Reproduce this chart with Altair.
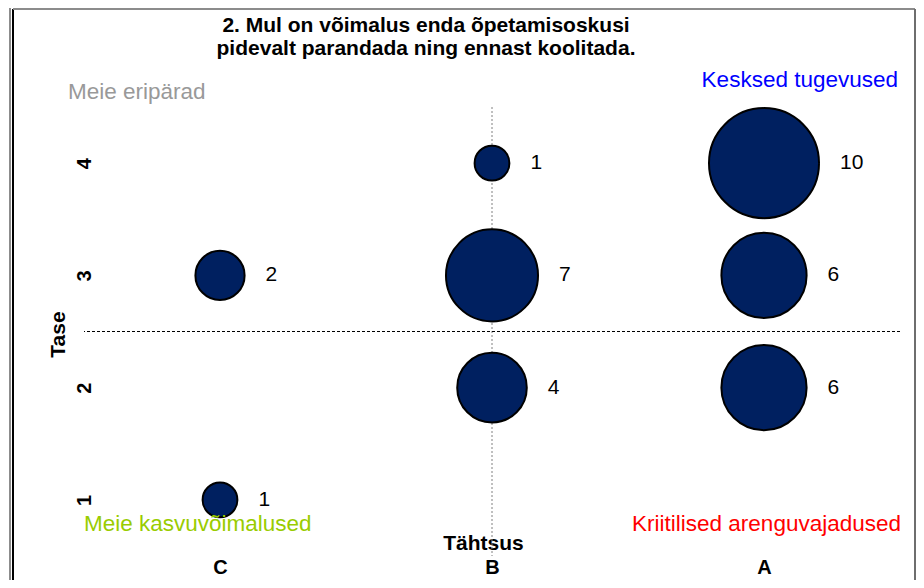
import altair as alt
import pandas as pd

# ---- data ----
categories = ["C", "B", "A"]          # Tähtsus (importance) categories, left to right
cat_pos = [1, 2, 3]
point_cat = ["C", "C", "B", "B", "B", "A", "A", "A"]
point_level = [3, 1, 4, 3, 2, 4, 3, 2]
point_count = [2, 1, 1, 7, 4, 10, 6, 6]
y_ticks = [1, 2, 3, 4]

title_lines = ["2. Mul on võimalus enda õpetamisoskusi",
               "pidevalt parandada ning ennast koolitada."]
quad_labels = ["Meie eripärad", "Kesksed tugevused",
               "Meie kasvuvõimalused", "Kriitilised arenguvajadused"]
quad_colors = ["#999999", "#0000FF", "#99CC00", "#FF0000"]
x_title = "Tähtsus"
y_title = "Tase"

# ---- layout ----
FONT = "Liberation Sans"
W, H = 816, 449
PAD = {"left": 76, "top": 99, "right": 16, "bottom": 24}
X_DOMAIN = [0.5, 3.5]
Y_DOMAIN = [0.5, 4.5]
PX_PER_X = W / (X_DOMAIN[1] - X_DOMAIN[0])
SIZE_PER_UNIT = 1210          # vega symbol size = diameter^2
BUBBLE_FILL = "#002060"

pos_map = dict(zip(categories, cat_pos))
df = pd.DataFrame({
    "cat": point_cat,
    "xpos": [pos_map[c] for c in point_cat],
    "level": point_level,
    "n": point_count,
})

xs = alt.Scale(domain=X_DOMAIN, nice=False, zero=False)
ys = alt.Scale(domain=Y_DOMAIN, nice=False, zero=False)

label_expr = "[" + ",".join(f"'{c}'" for c in categories) + "][datum.value - 1]"

x_axis = alt.Axis(
    values=cat_pos, labelExpr=label_expr, title=x_title,
    ticks=False, tickSize=0, domain=False, grid=False,
    labelFont=FONT, labelFontSize=20, labelFontWeight="bold", labelColor="#000000",
    labelPadding=1, labelAngle=0, labelBaseline="top",
    titleFont=FONT, titleFontSize=21, titleFontWeight="bold", titleColor="#000000",
    titleX=399, titleY=-7, titleBaseline="alphabetic", titleAlign="center",
)
y_axis = alt.Axis(
    values=y_ticks, title=y_title, format="d",
    ticks=False, tickSize=0, domain=False, grid=False,
    labelFont=FONT, labelFontSize=20, labelFontWeight="bold", labelColor="#000000",
    labelAngle=270, labelAlign="center", labelBaseline="middle", labelPadding=0,
    titleFont=FONT, titleFontSize=21, titleFontWeight="bold", titleColor="#000000",
    titleAngle=270, titleX=-26, titleY=227, titleBaseline="middle", titleAlign="center",
)

base = alt.Chart(df)

bubbles = base.mark_circle(
    fill=BUBBLE_FILL, stroke="#000000", strokeWidth=2, opacity=1
).encode(
    x=alt.X("xpos:Q", scale=xs, axis=x_axis),
    y=alt.Y("level:Q", scale=ys, axis=y_axis),
    size=alt.Size("n:Q", scale=alt.Scale(type="linear", domain=[0, 10],
                                         range=[0, 10 * SIZE_PER_UNIT]), legend=None),
)

values = base.transform_calculate(
    lx=f"datum.xpos + (sqrt(datum.n * {SIZE_PER_UNIT}) / 2 + 21) / {PX_PER_X}"
).mark_text(
    align="left", baseline="middle", font=FONT, fontSize=21, color="#000000"
).encode(
    x=alt.X("lx:Q", scale=xs, axis=x_axis),
    y=alt.Y("level:Q", scale=ys, axis=y_axis),
    text=alt.Text("n:Q", format="d"),
)

# quadrant dividers: vertical at the middle category, horizontal between levels 2 and 3
vline = alt.Chart(pd.DataFrame({"xpos": [cat_pos[1]]})).mark_rule(
    color="#808080", strokeWidth=1, strokeDash=[2, 2]
).encode(x=alt.X("xpos:Q", scale=xs, axis=x_axis))

hline = alt.Chart(pd.DataFrame({"level": [(y_ticks[1] + y_ticks[2]) / 2]})).mark_rule(
    color="#000000", strokeWidth=1, strokeDash=[3, 2]
).encode(y=alt.Y("level:Q", scale=ys, axis=y_axis))

one = pd.DataFrame({"a": [0]})


def txt(s, x, y, align="left", color="#000000", size=22.5, weight="normal"):
    return alt.Chart(one).mark_text(
        text=s, align=align, baseline="alphabetic", font=FONT, fontSize=size,
        fontWeight=weight, color=color
    ).encode(x=alt.value(x), y=alt.value(y))


title1 = txt(title_lines[0], 342, -75, align="center", size=21, weight="bold")
title2 = txt(title_lines[1], 342, -52, align="center", size=21, weight="bold")
q1 = txt(quad_labels[0], -16, -8, color=quad_colors[0])
q2 = txt(quad_labels[1], 814, -20, align="right", color=quad_colors[1])
q3 = txt(quad_labels[2], 0, 424, color=quad_colors[2])
q4 = txt(quad_labels[3], 817, 424, align="right", color=quad_colors[3])

# outer frame
frame_left_gray = alt.Chart(one).mark_rule(color="#8c8c8c", strokeWidth=2).encode(
    x=alt.value(-74), y=alt.value(-99), y2=alt.value(473))
frame_left_black = alt.Chart(one).mark_rule(color="#000000", strokeWidth=2).encode(
    x=alt.value(-71), y=alt.value(-98), y2=alt.value(473))
frame_top = alt.Chart(one).mark_rule(color="#8c8c8c", strokeWidth=2).encode(
    x=alt.value(-71), x2=alt.value(831), y=alt.value(-98))
frame_right = alt.Chart(one).mark_rule(color="#6e6e6e", strokeWidth=2).encode(
    x=alt.value(831), y=alt.value(-98), y2=alt.value(473))

chart = alt.layer(
    vline, hline, bubbles, values,
    title1, title2, q1, q2, q3, q4,
    frame_left_gray, frame_left_black, frame_top, frame_right,
).properties(
    width=W, height=H, padding=PAD,
    autosize=alt.AutoSizeParams(type="none"),
    background="#ffffff",
).configure_view(strokeWidth=0)

chart.save("out.html", embed_options={"renderer": "svg", "actions": False})
